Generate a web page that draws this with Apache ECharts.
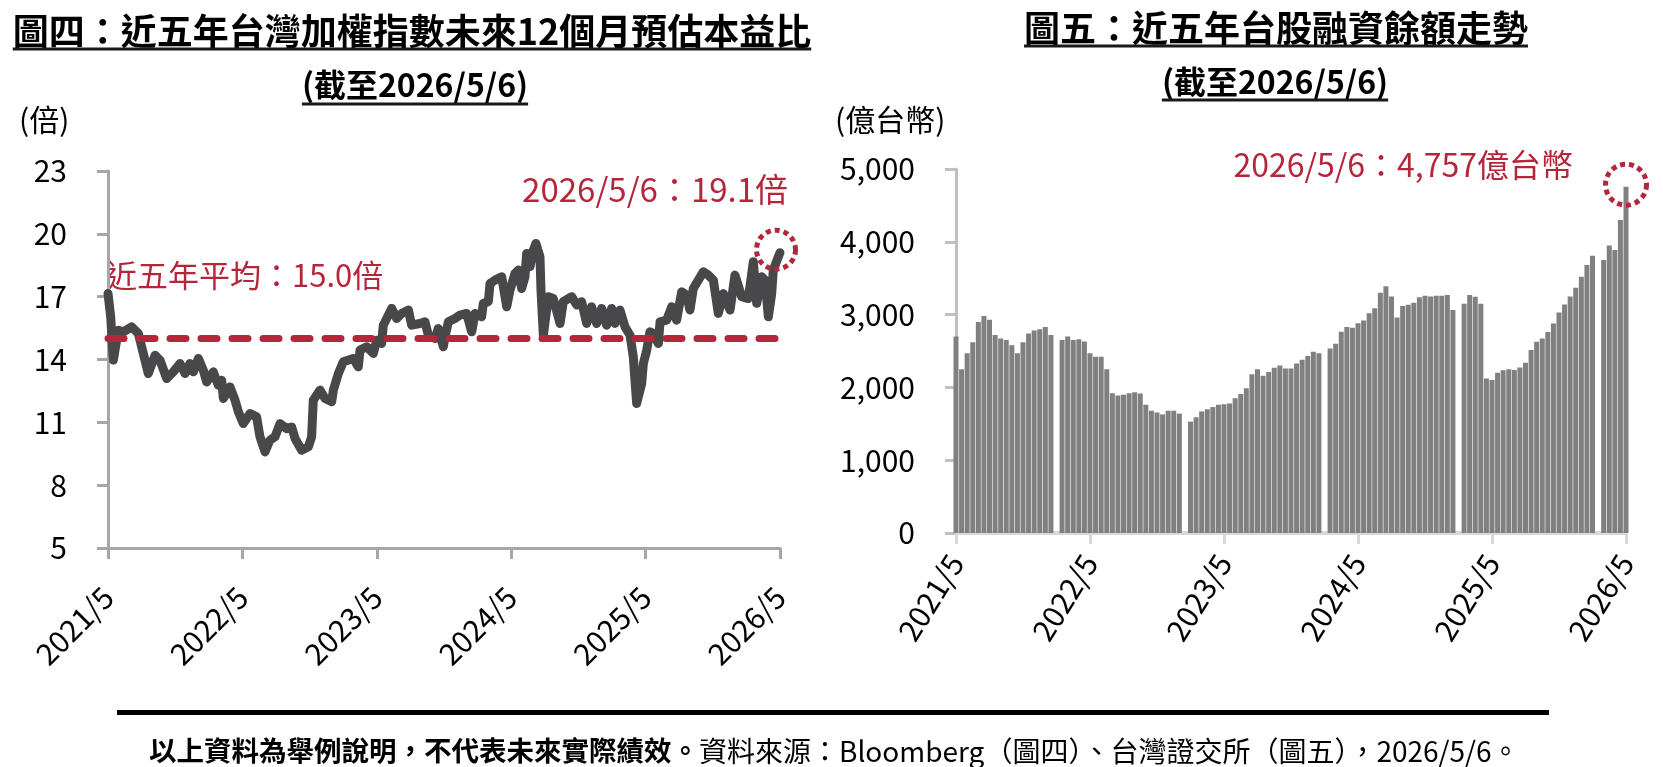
<!DOCTYPE html>
<html>
<head>
<meta charset="utf-8">
<script src="https://cdn.jsdelivr.net/npm/echarts@6/dist/echarts.min.js"></script>
<style>
  html, body { margin: 0; padding: 0; background: #fff; }
  #main { width: 1663px; height: 767px; }
</style>
</head>
<body>
<div id="main"></div>
<script>
// 圖四：預估本益比（x = 自 2021/5 起的月數）
const peMonths = [
  0, 0.24, 0.48, 0.92, 1.37, 2.11, 2.71, 3.15, 3.6, 4.2, 4.64, 5.24, 5.83, 6.43, 6.88, 7.32, 7.62, 8.07, 8.51, 8.81,
  9.4, 9.85, 10.15, 10.3, 10.89, 11.34, 11.64, 12.08, 12.68, 13.27, 13.57, 14.02, 14.46, 14.91, 15.36, 15.95, 16.4, 16.7, 17.29, 17.89,
  18.18, 18.33, 18.93, 19.38, 19.97, 20.12, 20.57, 21.01, 21.9, 22.35, 22.5, 23.1, 23.69, 23.99, 24.43, 24.58, 25.33, 25.77, 26.22, 26.82,
  27.11, 27.86, 28.3, 28.6, 29.2, 29.49, 29.94, 30.09, 30.39, 30.98,
  31.43, 32.02, 32.47, 32.77, 33.36, 33.51, 33.96, 34.11, 34.55, 35.15, 35.6, 35.89, 36.34, 36.64, 36.93, 37.23, 37.38, 37.68, 37.98, 38.21,
  38.57, 38.66, 38.87, 39.32, 39.76, 40.36, 40.65, 41.4, 41.85, 42.29, 42.74, 43.18, 43.63, 44.08, 44.52, 44.97, 45.27, 45.71, 46.16, 46.61,
  46.9, 47.2, 47.65, 47.8, 48.1, 48.39, 48.69, 49.14, 49.29, 49.88, 50.33, 50.77, 51.22, 51.67, 51.96, 52.26, 52.71, 53.15, 53.6, 54.05,
  54.49, 54.94, 55.54, 55.98, 56.58, 57.17, 57.62, 57.92, 58.36, 58.66, 58.96, 59.26, 59.4, 59.85, 60
];
const peValues = [
  17.15, 16.04, 13.97, 15.4, 15.32, 15.56, 15.24, 14.29, 13.33, 14.2, 13.97, 13.09, 13.41, 13.81, 13.33, 13.81, 13.41, 14.05, 13.49, 12.93,
  13.41, 12.77, 13.01, 12.14, 12.69, 12.06, 11.5, 10.94, 11.42, 11.26, 10.31, 9.59, 10.15, 10.31, 10.94, 10.7, 10.78, 10.23, 9.67, 9.83,
  10.31, 12.06, 12.54, 12.14, 11.98, 12.54, 13.33, 13.89, 14.05, 13.65, 14.45, 14.61, 14.29, 14.92, 14.76, 15.64, 16.44, 15.96, 16.2, 16.36,
  15.64, 15.72, 15.8, 15.16, 15.0, 15.48, 14.61, 15.08, 15.8, 15.96,
  16.12, 16.2, 15.32, 16.2, 16.04, 16.68, 16.76, 17.63, 17.79, 17.95, 16.52, 17.31, 18.11, 18.27, 17.39, 17.95, 19.06, 18.43, 19.22, 19.54,
  18.9, 17.31, 15.16, 17.0, 16.91, 15.72, 16.76, 17.0, 16.6, 16.76, 15.72, 16.52, 15.72, 16.44, 15.64, 16.44, 15.72, 16.36, 15.56, 15.16,
  14.13, 11.9, 12.85, 13.81, 14.45, 15.32, 15.24, 14.76, 15.8, 15.88, 16.52, 15.88, 17.23, 17.07, 16.36, 17.39, 17.79, 18.19, 18.03, 17.79,
  16.2, 17.15, 16.36, 18.03, 17.0, 16.91, 18.67, 16.68, 17.95, 17.79, 16.04, 17.15, 18.27, 18.9, 19.1
];
const peAverage = 15.0;
const peTicks = [5, 8, 11, 14, 17, 20, 23];

// 圖五：融資餘額（億台幣），每半個月一筆，null = 春節休市空檔
const marginStep = 0.5;
const marginValues = [
  2700, 2250, 2470, 2620, 2900, 2980, 2930, 2720, 2670, 2650,
  2580, 2470, 2620, 2740, 2780, 2800, 2830, 2720, null, 2650,
  2700, 2650, 2660, 2630, 2470, 2420, 2420, 2250, 1920, 1890,
  1900, 1920, 1935, 1915, 1760, 1680, 1655, 1630, 1680, 1680,
  1640, null, 1530, 1590, 1670, 1700, 1730, 1760, 1770, 1780,
  1850, 1910, 1990, 2180, 2250, 2160, 2210, 2270, 2300, 2260,
  2260, 2330, 2380, 2430, 2490, 2470, null, 2536, 2600, 2765,
  2830, 2820, 2880, 2920, 3017, 3086, 3300, 3390, 3250, 2960,
  3118, 3135, 3164, 3240, 3260, 3250, 3260, 3260, 3270, 3063,
  null, 3150, 3269, 3246, 3150, 2123, 2100, 2200, 2237, 2250,
  2240, 2275, 2340, 2513, 2627, 2673, 2760, 2879, 3030, 3140,
  3250, 3370, 3521, 3682, 3810, null, 3750, 3950, 3888, 4300,
  4757
];
const marginTicks = [0, 1000, 2000, 3000, 4000, 5000];

const yearLabels = ['2021/5', '2022/5', '2023/5', '2024/5', '2025/5', '2026/5'];
const monthTicks = [0, 12, 24, 36, 48, 60];

const RED = '#B5263A';
const FONT = "'Noto Sans CJK TC', 'Noto Sans', sans-serif";

const measure = document.createElement('canvas').getContext('2d');
function textWidth(str, size, weight) {
  measure.font = (weight || 'normal') + ' ' + size + 'px ' + FONT;
  return measure.measureText(str).width;
}

// 標題加底線
function titleWithLine(str, cx, cy, size, weight, lineY) {
  const w = textWidth(str, size, weight);
  return [
    {
      type: 'text', x: cx, y: cy,
      style: { text: str, fontSize: size, fontWeight: weight, fontFamily: FONT, fill: '#000',
        textAlign: 'center', textVerticalAlign: 'middle', verticalAlign: 'middle' }
    },
    {
      type: 'line',
      shape: { x1: cx - w / 2, y1: lineY, x2: cx + w / 2, y2: lineY },
      style: { stroke: '#1a1a1a', lineWidth: 3 }
    }
  ];
}

function plainText(str, x, y, size, color, align) {
  return {
    type: 'text', x: x, y: y,
    style: { text: str, fontSize: size, fontFamily: FONT, fill: color,
      textAlign: align || 'left', textVerticalAlign: 'middle', verticalAlign: 'middle' }
  };
}

const chart = echarts.init(document.getElementById('main'));

const xAxisBase = (gridIndex, color, width, rotate, margin) => ({
  type: 'value', gridIndex: gridIndex, min: 0, max: 60, interval: 12,
  axisLine: { show: true, onZero: false, lineStyle: { color: color, width: width } },
  axisTick: { show: true, length: 11, customValues: monthTicks, lineStyle: { color: color, width: 3 } },
  splitLine: { show: false },
  axisLabel: {
    customValues: monthTicks, rotate: rotate, margin: margin,
    fontSize: 30, fontFamily: FONT, color: '#000',
    formatter: v => yearLabels[Math.round(v / 12)]
  }
});

const option = {
  animation: false,
  backgroundColor: '#fff',
  grid: [
    { left: 108, top: 171, width: 672, height: 377 },
    { left: 956, top: 169, width: 670, height: 364 }
  ],
  xAxis: [
    xAxisBase(0, '#A6A6A6', 3, 45, 44),
    xAxisBase(1, '#D9D9D9', 4, 58, 24)
  ],
  yAxis: [
    {
      type: 'value', gridIndex: 0, min: 5, max: 23,
      axisLine: { show: true, lineStyle: { color: '#A6A6A6', width: 3 } },
      axisTick: { show: true, length: 11, customValues: peTicks, lineStyle: { color: '#A6A6A6', width: 3 } },
      splitLine: { show: false },
      axisLabel: { customValues: peTicks, margin: 41, fontSize: 30, fontFamily: FONT, color: '#000' }
    },
    {
      type: 'value', gridIndex: 1, min: 0, max: 5000, interval: 1000,
      axisLine: { show: true, lineStyle: { color: '#BFBFBF', width: 3 } },
      axisTick: { show: true, length: 11, customValues: marginTicks, lineStyle: { color: '#BFBFBF', width: 3 } },
      splitLine: { show: false },
      axisLabel: {
        customValues: marginTicks, margin: 41, fontSize: 30, fontFamily: FONT, color: '#000',
        formatter: v => v.toLocaleString('en-US')
      }
    }
  ],
  series: [
    {
      type: 'line', xAxisIndex: 0, yAxisIndex: 0,
      data: peMonths.map((m, i) => [m, peValues[i]]),
      symbol: 'none', showSymbol: false,
      lineStyle: { color: '#48484A', width: 9, cap: 'round', join: 'round' },
      markLine: {
        silent: true, symbol: ['none', 'none'], label: { show: false },
        lineStyle: { color: RED, width: 7, type: [16, 15], cap: 'round' },
        data: [{ yAxis: peAverage }]
      },
      markPoint: {
        silent: true, symbol: 'circle', symbolSize: 39, symbolOffset: [-4, -3],
        label: { show: false },
        itemStyle: { color: 'rgba(0,0,0,0)', borderColor: RED, borderWidth: 5, borderType: [5, 4] },
        data: [{ coord: [peMonths[peMonths.length - 1], peValues[peValues.length - 1]] }]
      }
    },
    {
      type: 'bar', xAxisIndex: 1, yAxisIndex: 1,
      data: marginValues.map((v, i) => [i * marginStep, v]),
      barWidth: 5,
      itemStyle: { color: '#808080' },
      markPoint: {
        silent: true, symbol: 'circle', symbolSize: 41, symbolOffset: [0, -2],
        label: { show: false },
        itemStyle: { color: 'rgba(0,0,0,0)', borderColor: RED, borderWidth: 5, borderType: [5, 4] },
        data: [{ coord: [(marginValues.length - 1) * marginStep, marginValues[marginValues.length - 1]] }]
      }
    }
  ],
  graphic: [].concat(
    titleWithLine('圖四：近五年台灣加權指數未來12個月預估本益比', 412, 31, 36, 'bold', 49),
    titleWithLine('(截至2026/5/6)', 415, 85, 32, 'bold', 104),
    titleWithLine('圖五：近五年台股融資餘額走勢', 1276, 28, 36, 'bold', 46),
    titleWithLine('(截至2026/5/6)', 1275, 82, 32, 'bold', 100),
    [
      plainText('(倍)', 19, 120, 30, '#000'),
      plainText('(億台幣)', 835, 120, 30, '#000'),
      plainText('2026/5/6：19.1倍', 788, 189, 33, RED, 'right'),
      plainText('近五年平均：15.0倍', 106, 275, 31, RED),
      plainText('2026/5/6：4,757億台幣', 1573, 165, 32, RED, 'right'),
      {
        type: 'rect', shape: { x: 117, y: 710, width: 1432, height: 5 },
        style: { fill: '#000' }
      },
      {
        type: 'text', x: 149, y: 751,
        style: {
          text: '{b|以上資料為舉例說明，不代表未來實際績效。}{n|資料來源：Bloomberg（圖四）、台灣證交所（圖五），2026/5/6。}',
          textVerticalAlign: 'middle', verticalAlign: 'middle',
          rich: {
            b: { fontSize: 27.5, fontWeight: 'bold', fontFamily: FONT, fill: '#000', color: '#000' },
            n: { fontSize: 28, fontFamily: FONT, fill: '#000', color: '#000' }
          }
        }
      }
    ]
  )
};

chart.setOption(option);
</script>
</body>
</html>
